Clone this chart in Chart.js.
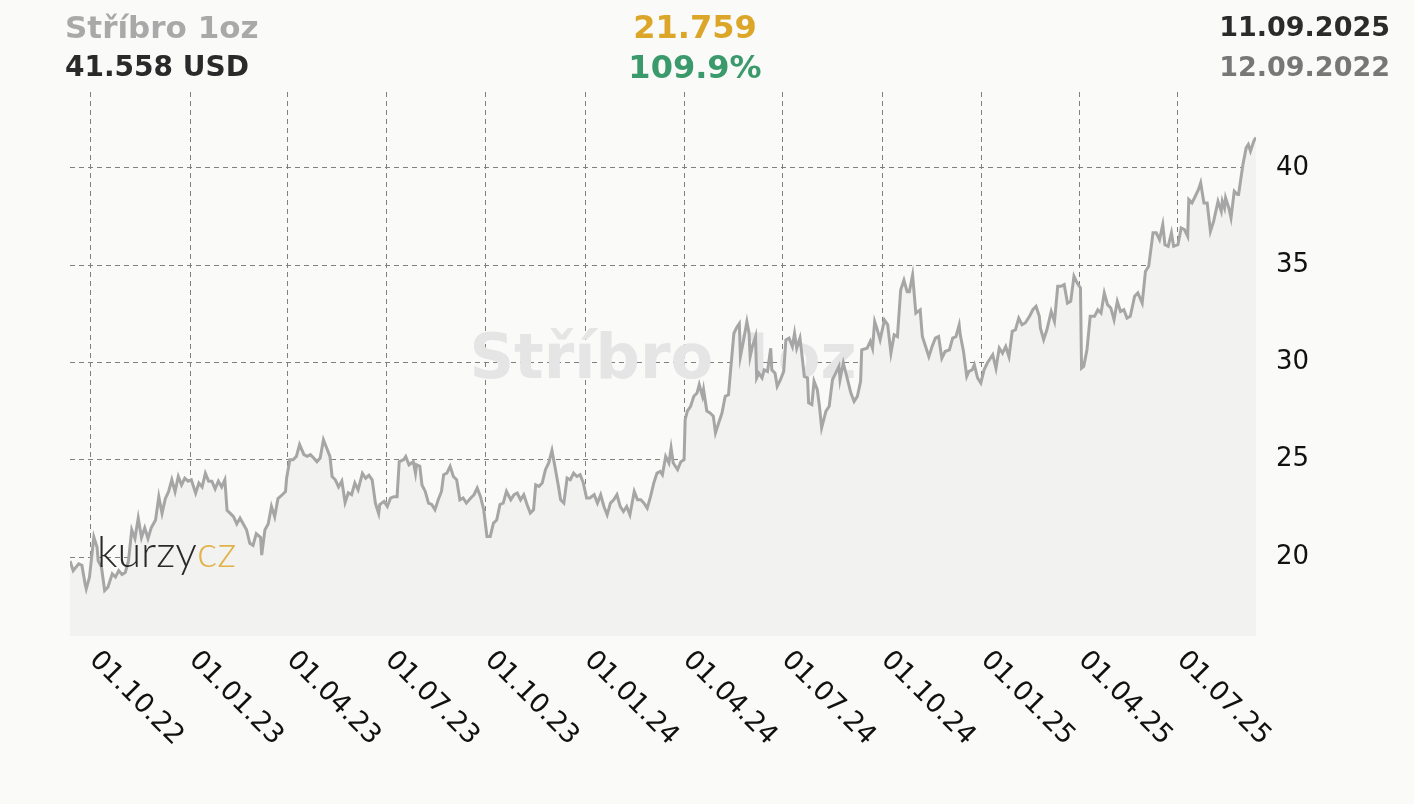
<!DOCTYPE html>
<html>
<head>
<meta charset="utf-8">
<title>Stříbro 1oz</title>
<script src="https://cdn.jsdelivr.net/npm/chart.js@4.4.1/dist/chart.umd.min.js"></script>
<style>
  html, body { margin: 0; padding: 0; background: #fafaf9; }
  canvas { display: block; }
</style>
</head>
<body>
<canvas id="canvas" width="1414" height="804"></canvas>
<script>
// days since 12.09.2022 and price in USD
var days = [
  0,3,8,11,14,15,18,22,25,26,29,32,35,39,42,45,48,51,54,57,60,63,66,69,72,75,79,82,85,88,
  91,94,97,100,103,106,109,112,116,119,122,125,128,131,134,137,140,143,145,148,151,154,157,160,163,166,169,172,176,177,
  180,183,186,189,192,196,199,200,203,206,209,212,216,219,222,225,228,231,234,237,240,242,245,248,251,254,257,260,263,266,
  270,273,276,279,282,285,286,290,293,296,299,302,304,308,310,313,317,319,320,323,325,328,331,334,337,340,343,345,348,351,
  354,357,360,363,366,370,373,376,379,382,385,388,391,394,397,400,403,407,410,413,416,419,422,425,428,430,433,436,439,442,
  445,448,451,453,456,459,462,465,468,471,474,477,480,484,487,490,493,496,499,502,505,508,511,514,517,521,524,527,530,533,
  536,539,542,545,547,550,553,555,557,561,564,567,568,570,573,576,579,581,584,585,588,591,594,596,599,602,605,608,610,613,
  616,618,619,622,625,627,628,630,633,634,636,639,641,644,647,648,651,653,656,659,661,664,667,669,671,674,676,678,681,682,
  685,687,690,692,694,698,701,704,707,710,711,714,718,721,724,727,730,731,736,739,741,743,745,748,752,755,758,761,764,767,
  770,773,775,778,781,785,787,790,793,796,799,802,805,808,812,815,818,821,822,825,828,830,833,835,838,841,844,847,852,855,
  858,861,864,867,870,873,876,879,882,886,889,892,895,896,899,902,906,909,912,915,918,921,924,927,930,933,934,936,939,942,
  946,949,952,955,958,961,964,967,970,973,976,979,983,986,990,993,996,1000,1003,1006,1009,1011,1014,1017,1019,1023,1026,1029,1032,1033,
  1036,1039,1042,1044,1047,1050,1053,1056,1060,1063,1064,1066,1067,1070,1072,1075,1078,1079,1083,1086,1088,1090,1093,1095
];
var prices = [
  19.80,19.30,19.65,19.57,18.60,18.36,18.97,21.03,20.50,19.80,19.50,18.28,18.45,19.14,18.97,19.30,19.10,19.20,19.80,21.40,20.95,22.00,21.00,21.50,20.95,21.50,21.90,23.10,22.24,23.00,
  23.36,23.97,23.36,24.14,23.70,24.05,23.90,23.97,23.28,23.80,23.60,24.30,23.90,23.90,23.50,23.90,23.60,23.97,22.40,22.24,22.07,21.70,22.00,21.70,21.40,20.70,20.60,21.20,21.00,20.10,
  21.40,21.70,22.60,22.07,23.00,23.20,23.36,24.05,25.00,25.00,25.17,25.78,25.26,25.17,25.26,25.09,24.90,25.09,26.03,25.60,25.17,24.14,23.97,23.60,23.90,22.80,23.30,23.20,23.80,23.45,
  24.30,24.05,24.20,23.97,22.76,22.24,22.70,22.86,22.60,23.03,23.10,23.10,24.90,25.00,25.17,24.74,24.90,24.30,24.74,24.66,23.70,23.37,22.77,22.70,22.43,22.94,23.37,24.23,24.31,24.66,
  24.14,23.97,22.94,23.03,22.77,23.03,23.20,23.54,23.10,22.43,21.06,21.06,21.74,21.90,22.70,22.77,23.37,22.94,23.20,23.29,22.94,23.20,22.70,22.26,22.43,23.71,23.63,23.80,24.49,24.83,
  25.48,24.57,23.63,22.94,22.77,24.06,23.97,24.31,24.14,24.23,23.80,23.03,23.03,23.20,22.77,23.20,22.60,22.17,22.77,22.94,23.20,22.60,22.34,22.60,22.17,23.37,22.94,22.94,22.77,22.51,
  23.10,23.80,24.31,24.40,24.23,25.17,24.83,25.60,24.83,24.49,24.90,25.00,27.06,27.50,27.75,28.26,28.43,28.86,28.26,28.60,27.50,27.40,27.24,26.38,26.90,27.40,28.26,28.34,29.62,31.50,
  31.84,32.00,30.30,31.16,32.10,31.50,30.30,30.80,31.33,29.20,29.45,29.20,29.62,29.54,30.73,29.62,29.45,28.77,29.11,29.54,31.16,31.25,30.82,31.50,30.73,31.25,30.30,29.28,29.20,27.92,
  27.83,29.03,28.60,27.75,26.64,27.50,27.75,29.11,29.45,29.80,29.11,29.97,29.11,28.43,28.00,28.26,29.03,30.65,30.73,31.08,30.73,32.10,31.76,31.16,32.18,31.93,30.48,31.42,31.33,33.72,
  34.23,33.63,33.63,34.49,32.53,32.70,31.33,30.82,30.30,30.82,31.25,31.33,30.22,30.56,30.65,31.25,31.33,31.93,31.42,30.56,29.28,29.54,29.62,29.88,29.20,28.94,29.62,29.97,30.40,29.70,
  30.74,30.48,30.82,30.30,31.60,31.68,32.28,31.94,32.03,32.37,32.71,32.88,32.37,31.77,31.17,31.68,32.62,32.11,33.91,33.91,34.00,33.05,33.14,34.43,34.08,33.83,29.71,29.80,30.65,32.37,
  32.37,32.71,32.54,33.57,32.97,32.80,32.20,33.14,32.62,32.71,32.28,32.37,33.40,33.57,33.05,34.68,34.94,36.66,36.66,36.31,37.08,36.05,35.97,36.66,35.97,36.05,36.91,36.83,36.48,38.37,
  38.20,38.54,38.89,39.23,38.20,38.20,36.74,37.26,38.28,37.77,38.28,37.94,38.46,37.94,37.43,38.80,38.63,38.63,40.17,41.03,41.20,40.86,41.37,41.558
];
var tickDays = [19, 111, 201, 292, 384, 476, 567, 658, 750, 842, 932, 1023];
var tickLabels = ['01.10.22','01.01.23','01.04.23','01.07.23','01.10.23','01.01.24',
                  '01.04.24','01.07.24','01.10.24','01.01.25','01.04.25','01.07.25'];
var yTicks = [20, 25, 30, 35, 40];

var title = 'Stříbro 1oz';
var lastPrice = '41.558 USD';
var change = '21.759';
var changePct = '109.9%';
var dateTo = '11.09.2025';
var dateFrom = '12.09.2022';

var points = days.map(function (d, i) { return { x: d, y: prices[i] }; });

var FONT = '"DejaVu Sans", Verdana, sans-serif';

var decor = {
  id: 'decor',
  beforeDatasetsDraw: function (chart) {
    var ctx = chart.ctx, a = chart.chartArea;
    ctx.save();
    ctx.font = 'bold 62px ' + FONT;
    ctx.fillStyle = '#e5e5e5';
    ctx.textAlign = 'center';
    ctx.textBaseline = 'middle';
    ctx.fillText(title, (a.left + a.right) / 2, (a.top + a.bottom) / 2 - 2);
    ctx.restore();
  },
  afterDatasetsDraw: function (chart) {
    var ctx = chart.ctx;
    ctx.save();
    ctx.font = '300 43px Lato, "Open Sans", sans-serif';
    ctx.textBaseline = 'alphabetic';
    ctx.fillStyle = '#2a2a2a';
    ctx.fillText('kurzy', 97, 567);
    var w = ctx.measureText('kurzy').width;
    ctx.fillStyle = '#e2b34a';
    ctx.fillText('cz', 97 + w, 567);
    ctx.restore();
  },
  afterDraw: function (chart) {
    var ctx = chart.ctx, sx = chart.scales.x, a = chart.chartArea;
    ctx.save();
    // rotated date labels
    ctx.font = '27px ' + FONT;
    ctx.fillStyle = '#111';
    ctx.textAlign = 'left';
    ctx.textBaseline = 'middle';
    tickDays.forEach(function (d, i) {
      ctx.save();
      ctx.translate(sx.getPixelForValue(d) + 3, a.bottom + 20);
      ctx.rotate(Math.PI / 4);
      ctx.fillText(tickLabels[i], 0, 0);
      ctx.restore();
    });
    // header
    ctx.textBaseline = 'alphabetic';
    ctx.textAlign = 'left';
    ctx.font = 'bold 31px ' + FONT;
    ctx.fillStyle = '#a9a9a9';
    ctx.fillText(title, 65, 38);
    ctx.font = 'bold 28px ' + FONT;
    ctx.fillStyle = '#2a2a2a';
    ctx.fillText(lastPrice, 65, 76);
    ctx.textAlign = 'center';
    ctx.font = 'bold 32px ' + FONT;
    ctx.fillStyle = '#dca629';
    ctx.fillText(change, 695, 38);
    ctx.fillStyle = '#3a9a6b';
    ctx.fillText(changePct, 695, 78);
    ctx.textAlign = 'right';
    ctx.font = 'bold 27px ' + FONT;
    ctx.fillStyle = '#2b2b2b';
    ctx.fillText(dateTo, 1390, 36);
    ctx.fillStyle = '#777';
    ctx.fillText(dateFrom, 1390, 76);
    ctx.restore();
  }
};

new Chart(document.getElementById('canvas').getContext('2d'), {
  type: 'line',
  data: {
    datasets: [{
      data: points,
      borderColor: '#a6a6a6',
      borderWidth: 3,
      pointRadius: 0,
      tension: 0,
      fill: 'start',
      backgroundColor: '#f2f2f1'
    }]
  },
  options: {
    responsive: false,
    animation: false,
    events: [],
    layout: { padding: { left: 70, top: 92, right: 85, bottom: 168 } },
    plugins: { legend: { display: false }, tooltip: { enabled: false } },
    scales: {
      x: {
        type: 'linear',
        min: 0,
        max: 1095,
        afterBuildTicks: function (s) { s.ticks = tickDays.map(function (v) { return { value: v }; }); },
        ticks: { display: false },
        grid: { color: '#808080', lineWidth: 1, drawTicks: false },
        border: { display: false, dash: [5, 4] }
      },
      y: {
        position: 'right',
        min: 15.94,
        max: 43.9,
        afterBuildTicks: function (s) { s.ticks = yTicks.map(function (v) { return { value: v }; }); },
        ticks: { padding: 20, color: '#111', font: { family: FONT, size: 26 } },
        grid: { color: '#808080', lineWidth: 1, drawTicks: false },
        border: { display: false, dash: [5, 4] }
      }
    }
  },
  plugins: [decor]
});
</script>
</body>
</html>
